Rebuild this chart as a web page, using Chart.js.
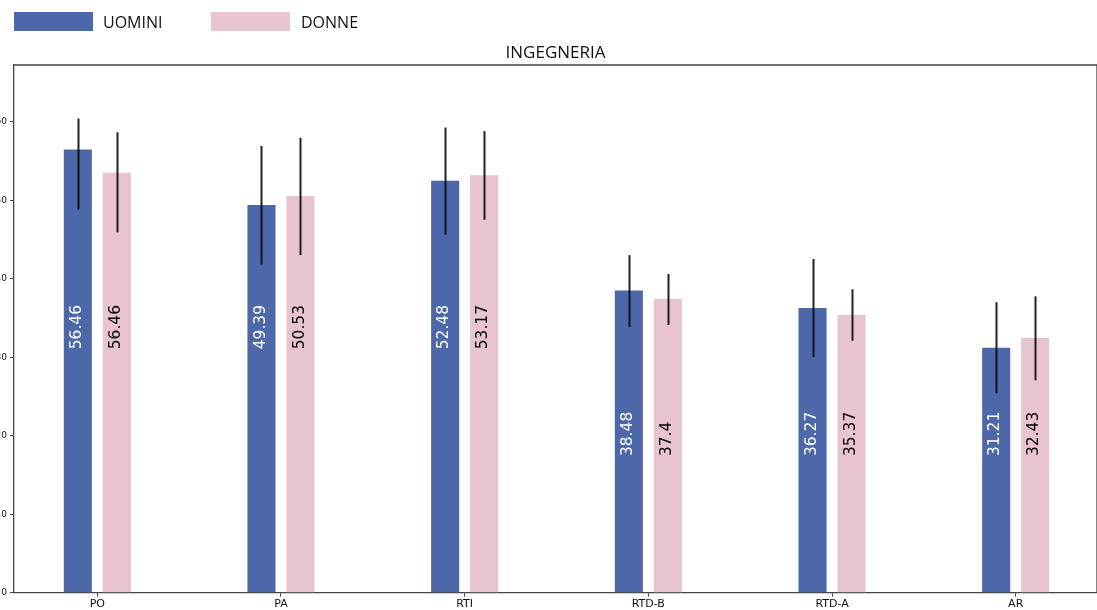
<!DOCTYPE html>
<html>
<head>
<meta charset="utf-8">
<script src="https://cdn.jsdelivr.net/npm/chart.js@4/dist/chart.umd.min.js"></script>
<style>
  html, body { margin: 0; padding: 0; background: #fff; overflow: hidden; width: 1097px; height: 610px; }
  #wrap { position: absolute; left: 0; top: 0; width: 1100px; height: 610px; }
  .box { position: absolute; top: 12px; width: 79px; height: 19px; }
  .txt { position: absolute; top: 11px; line-height: 19px; font: 16px 'Open Sans', sans-serif; color: #111; }
</style>
</head>
<body>
<div id="wrap"><canvas id="chart"></canvas></div>
<span class="box" style="left:14px;background:#4c68a9"></span>
<span class="txt" style="left:103px">UOMINI</span>
<span class="box" style="left:211px;background:#e8c4cf"></span>
<span class="txt" style="left:301px">DONNE</span>
<script>
// ------------------------------- Data -------------------------------------
const CATEGORIES = ['PO', 'PA', 'RTI', 'RTD-B', 'RTD-A', 'AR'];
const Y_TICKS = [0, 10, 20, 30, 40, 50, 60];

const UOMINI = [56.46, 49.39, 52.48, 38.48, 36.27, 31.21];
const UOMINI_LABELS = ['56.46', '49.39', '52.48', '38.48', '36.27', '31.21'];
const UOMINI_ERR_LOW = [48.8, 41.8, 45.6, 33.85, 30.0, 25.4];
const UOMINI_ERR_HIGH = [60.4, 56.9, 59.25, 43.0, 42.5, 37.0];

const DONNE = [53.5, 50.53, 53.17, 37.4, 35.37, 32.43];
const DONNE_LABELS = ['56.46', '50.53', '53.17', '37.4', '35.37', '32.43'];
const DONNE_ERR_LOW = [45.9, 43.0, 47.5, 34.1, 32.1, 27.05];
const DONNE_ERR_HIGH = [58.65, 57.95, 58.8, 40.6, 38.65, 37.75];

// ------------------------------ Colors ------------------------------------
const COL = {
  men: '#4c68a9',
  women: '#e8c4cf',
  axis: '#444',
  err: 'rgba(10,10,10,0.9)',
};

// value where the rotated labels start (bottom of the text)
const LABEL_BASE = [31, 31, 31, 17.4, 17.4, 17.4];

// ----------------------------- Plugins ------------------------------------
const errorBars = {
  id: 'errorBars',
  afterDatasetsDraw(chart) {
    const { ctx } = chart;
    const y = chart.scales.y;
    chart.data.datasets.forEach((ds, di) => {
      const meta = chart.getDatasetMeta(di);
      ctx.save();
      ctx.strokeStyle = COL.err;
      ctx.lineWidth = 2;
      meta.data.forEach((bar, i) => {
        ctx.beginPath();
        ctx.moveTo(Math.round(bar.x) + 0.5, y.getPixelForValue(ds.errLow[i]));
        ctx.lineTo(Math.round(bar.x) + 0.5, y.getPixelForValue(ds.errHigh[i]));
        ctx.stroke();
      });
      ctx.restore();
    });
  },
};

const barLabels = {
  id: 'barLabels',
  afterDatasetsDraw(chart) {
    const { ctx } = chart;
    const y = chart.scales.y;
    chart.data.datasets.forEach((ds, di) => {
      const meta = chart.getDatasetMeta(di);
      meta.data.forEach((bar, i) => {
        ctx.save();
        ctx.translate(bar.x - 1, y.getPixelForValue(LABEL_BASE[i]));
        ctx.rotate(-Math.PI / 2);
        ctx.font = '15.5px "DejaVu Sans"';
        ctx.fillStyle = ds.labelColor;
        ctx.textAlign = 'left';
        ctx.textBaseline = 'middle';
        ctx.fillText(ds.valueLabels[i], 0, 0);
        ctx.restore();
      });
    });
  },
};

const frame = {
  id: 'frame',
  beforeDatasetsDraw(chart) {
    const { ctx, chartArea: a } = chart;
    ctx.save();
    ctx.strokeStyle = COL.axis;
    ctx.lineWidth = 1.3;
    ctx.beginPath();
    ctx.moveTo(a.left, a.top);
    ctx.lineTo(a.right, a.top);
    ctx.lineTo(a.right, a.bottom);
    ctx.stroke();
    ctx.restore();
  },
};

// ------------------------------ Chart -------------------------------------
new Chart(document.getElementById('chart').getContext('2d'), {
  type: 'bar',
  data: {
    datasets: [
      {
        label: 'UOMINI',
        data: UOMINI.map((v, i) => ({ x: i, y: v })),
        backgroundColor: COL.men,
        errLow: UOMINI_ERR_LOW,
        errHigh: UOMINI_ERR_HIGH,
        valueLabels: UOMINI_LABELS,
        labelColor: '#ffffff',
      },
      {
        label: 'DONNE',
        data: DONNE.map((v, i) => ({ x: i, y: v })),
        backgroundColor: COL.women,
        errLow: DONNE_ERR_LOW,
        errHigh: DONNE_ERR_HIGH,
        valueLabels: DONNE_LABELS,
        labelColor: '#000000',
      },
    ],
  },
  options: {
    responsive: true,
    maintainAspectRatio: false,
    animation: false,
    categoryPercentage: 0.4246,
    barPercentage: 0.72,
    layout: { padding: { top: 40, right: 3, left: 0, bottom: 0 } },
    plugins: {
      legend: { display: false },
      tooltip: { enabled: false },
      title: {
        display: true,
        fullSize: false,
        text: 'INGEGNERIA',
        color: '#111',
        font: { family: 'Open Sans', size: 17, weight: 'normal' },
        padding: { top: 3, bottom: 1.6 },
      },
    },
    scales: {
      x: {
        type: 'linear',
        min: -0.4535,
        max: 5.4426,
        offset: false,
        afterBuildTicks: (s) => { s.ticks = CATEGORIES.map((_, i) => ({ value: i })); },
        afterFit: (s) => { s.height = 17.3; },
        grid: { drawOnChartArea: false, drawTicks: true, tickLength: 4, tickColor: COL.axis, offset: false },
        border: { display: true, color: COL.axis, width: 1.3 },
        ticks: {
          color: '#111',
          font: { family: 'DejaVu Sans', size: 11 },
          padding: 1,
          autoSkip: false,
          maxRotation: 0,
          callback: (v) => CATEGORIES[v] ?? '',
        },
      },
      y: {
        min: 0,
        max: 67.22,
        afterBuildTicks: (s) => { s.ticks = Y_TICKS.map((v) => ({ value: v })); },
        afterFit: (s) => { s.width = 14; },
        grid: { drawOnChartArea: false, drawTicks: true, tickLength: 4, tickColor: COL.axis },
        border: { display: true, color: COL.axis, width: 1.3 },
        ticks: {
          color: '#111',
          font: { family: 'DejaVu Sans', size: 9 },
          padding: 3,
          callback: (v) => String(v),
        },
      },
    },
  },
  plugins: [frame, errorBars, barLabels],
});
</script>
</body>
</html>
